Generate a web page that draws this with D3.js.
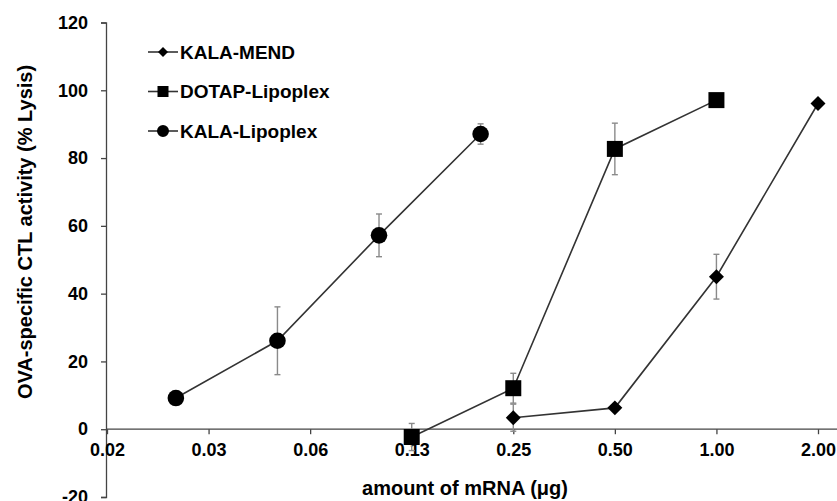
<!DOCTYPE html>
<html>
<head>
<meta charset="utf-8">
<script src="https://cdn.jsdelivr.net/npm/d3@7"></script>
<style>
  body { margin: 0; background: #fff; }
  text { font-family: "Liberation Sans", Arial, sans-serif; font-weight: bold; fill: #000; }
</style>
</head>
<body>
<div id="chart"></div>
<script>
// x tick values (mRNA amount, log2 steps) and their printed labels
var tickValues = [1 / 64, 1 / 32, 1 / 16, 1 / 8, 1 / 4, 1 / 2, 1, 2];
var tickLabels = ['0.02', '0.03', '0.06', '0.13', '0.25', '0.50', '1.00', '2.00'];
var yTicks = [-20, 0, 20, 40, 60, 80, 100, 120];

// KALA-MEND (diamonds)
var mendX = [0.25, 0.5, 1, 2];
var mendY = [3.4, 6.3, 45, 96.1];
var mendErr = [4, 0, 6.6, 0];

// DOTAP-Lipoplex (squares)
var dotapX = [0.125, 0.25, 0.5, 1];
var dotapY = [-2.3, 12.1, 82.7, 97.1];
var dotapErr = [4, 4.4, 7.6, 0];

// KALA-Lipoplex (circles)
var lipoX = [0.025, 0.05, 0.1, 0.2];
var lipoY = [9.2, 26.1, 57.2, 87.1];
var lipoErr = [0, 10, 6.3, 3];

var W = 837, H = 501;
var svg = d3.select('#chart').append('svg').attr('width', W).attr('height', H);

var x = d3.scaleLog().base(2).domain([1 / 64, 2]).range([107, 818]);
var y = d3.scaleLinear().domain([-20, 120]).range([497, 22.5]);

function zip(xs, ys, es) {
    return xs.map(function (v, i) { return { x: v, y: ys[i], e: es[i] }; });
}

var series = [
    { name: 'KALA-MEND', data: zip(mendX, mendY, mendErr), shape: 'diamond', size: 112, legSize: 50 },
    { name: 'DOTAP-Lipoplex', data: zip(dotapX, dotapY, dotapErr), shape: 'square', size: 256, legSize: 121 },
    { name: 'KALA-Lipoplex', data: zip(lipoX, lipoY, lipoErr), shape: 'circle', size: 216, legSize: 113 }
];

// y axis
var yAxis = d3.axisLeft(y).tickValues(yTicks).tickSize(5).tickPadding(13)
    .tickFormat(function (d) { return String(d); });
var gy = svg.append('g').attr('transform', 'translate(106,0)').call(yAxis);
gy.select('.domain').attr('stroke', '#444').attr('stroke-width', 1.3);
gy.selectAll('.tick line').attr('stroke', '#444').attr('stroke-width', 1.3);
gy.selectAll('.tick text').style('font-size', '18px');

// x axis sitting on y = 0
var xAxis = d3.axisBottom(x).tickValues(tickValues)
    .tickFormat(function (d, i) { return tickLabels[i]; })
    .tickSizeInner(5).tickSizeOuter(0).tickPadding(9);
var gx = svg.append('g').attr('transform', 'translate(0,' + y(0) + ')').call(xAxis);
gx.select('.domain').attr('d', 'M106,0H837').attr('stroke', '#444').attr('stroke-width', 1.3);
gx.selectAll('.tick line').attr('stroke', '#444').attr('stroke-width', 1.3);
gx.selectAll('.tick text').style('font-size', '18px');

// axis titles
svg.append('text')
    .attr('transform', 'translate(32,232) rotate(-90)')
    .attr('text-anchor', 'middle')
    .style('font-size', '20px')
    .text('OVA-specific CTL activity (% Lysis)');

svg.append('text')
    .attr('x', 465).attr('y', 495)
    .attr('text-anchor', 'middle')
    .style('font-size', '20px')
    .text('amount of mRNA (μg)');

function symbolPath(shape, size) {
    if (shape === 'circle') return d3.symbol().type(d3.symbolCircle).size(size)();
    return d3.symbol().type(d3.symbolSquare).size(size)();
}

var line = d3.line().x(function (d) { return x(d.x); }).y(function (d) { return y(d.y); });

// error bars (behind)
series.forEach(function (s) {
    var eb = svg.append('g').attr('stroke', '#8a8a8a').attr('stroke-width', 1.4);
    s.data.filter(function (d) { return d.e > 0; }).forEach(function (d) {
        var cx = x(d.x), y1 = y(d.y + d.e), y2 = y(d.y - d.e);
        eb.append('line').attr('x1', cx).attr('x2', cx).attr('y1', y1).attr('y2', y2);
        eb.append('line').attr('x1', cx - 3).attr('x2', cx + 3).attr('y1', y1).attr('y2', y1);
        eb.append('line').attr('x1', cx - 3).attr('x2', cx + 3).attr('y1', y2).attr('y2', y2);
    });
});

// lines and markers
series.forEach(function (s) {
    svg.append('path').datum(s.data)
        .attr('d', line)
        .attr('fill', 'none')
        .attr('stroke', '#333')
        .attr('stroke-width', 1.6);

    svg.selectAll(null).data(s.data).enter().append('path')
        .attr('d', symbolPath(s.shape, s.size))
        .attr('transform', function (d) {
            return 'translate(' + x(d.x) + ',' + y(d.y) + ')' + (s.shape === 'diamond' ? ' rotate(45)' : '');
        })
        .attr('fill', '#000');
});

// legend
var leg = svg.append('g');
series.forEach(function (s, i) {
    var ly = 52 + i * 39.5;
    leg.append('line').attr('x1', 148).attr('x2', 178).attr('y1', ly).attr('y2', ly)
        .attr('stroke', '#333').attr('stroke-width', 1.6);
    leg.append('path')
        .attr('d', symbolPath(s.shape, s.legSize))
        .attr('transform', 'translate(163,' + ly + ')' + (s.shape === 'diamond' ? ' rotate(45)' : ''))
        .attr('fill', '#000');
    leg.append('text').attr('x', 180).attr('y', ly).attr('dy', '0.35em')
        .style('font-size', '19px')
        .text(s.name);
});
</script>
</body>
</html>
